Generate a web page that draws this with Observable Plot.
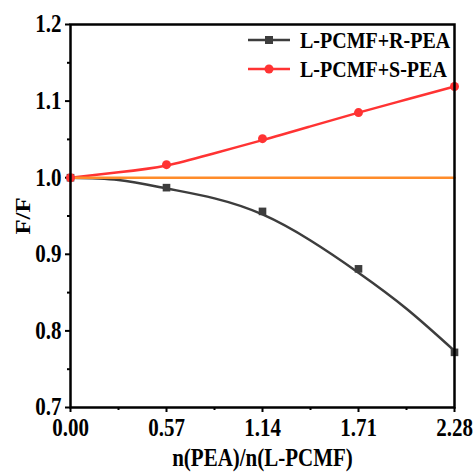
<!DOCTYPE html>
<html>
<head>
<meta charset="utf-8">
<script src="https://cdn.jsdelivr.net/npm/d3@7"></script>
<script src="https://cdn.jsdelivr.net/npm/@observablehq/plot@0.6"></script>
<style>
  html, body { margin: 0; padding: 0; background: #fff; }
  #wrap { position: relative; width: 476px; height: 473px; }
  #legend { position: absolute; left: 0; top: 0; }
  .stretch { transform: scaleY(1.18); transform-box: fill-box; transform-origin: center; }
</style>
</head>
<body>
<div id="wrap"></div>
<script>
// Measured points
const xValues = [0, 0.57, 1.14, 1.71, 2.28];
const rPEA = [1.0, 0.987, 0.956, 0.881, 0.772];
const sPEA = [1.0, 1.017, 1.051, 1.085, 1.119];
// Fitted curves
const fitX = [0, 0.285, 0.57, 0.855, 1.14, 1.425, 1.71, 1.995, 2.28];
const rFit = [1.0, 0.997, 0.986, 0.973, 0.952, 0.918, 0.876, 0.829, 0.774];
const sFit = [1.0, 1.007, 1.016, 1.032, 1.049, 1.067, 1.085, 1.102, 1.119];
const baseline = [1.0, 1.0];
const baselineX = [0, 2.28];
// Ticks
const xTicks = [0, 0.57, 1.14, 1.71, 2.28];
const xMinor = [0.285, 0.855, 1.425, 1.995];
const yTicks = [0.7, 0.8, 0.9, 1.0, 1.1, 1.2];
const yMinor = [0.75, 0.85, 0.95, 1.05, 1.15];
const seriesNames = ["L-PCMF+R-PEA", "L-PCMF+S-PEA"];
const colors = { black: "#3d3d3d", red: "#ff3333", orange: "#ff8c2a" };

const pts = (xs, ys) => xs.map((x, i) => ({x, y: ys[i]}));
const font = "'Liberation Serif', 'Times New Roman', serif";

const chart = Plot.plot({
  width: 476,
  height: 473,
  marginLeft: 70,
  marginRight: 22,
  marginTop: 24,
  marginBottom: 66,
  style: { fontFamily: font, fontWeight: "bold", fontSize: "21px", color: "#000", background: "#fff" },
  x: { domain: [0, 2.28] },
  y: { domain: [0.7, 1.2] },
  marks: [
    Plot.axisX({ ticks: xTicks, tickFormat: d3.format(".2f"), tickSize: 5, tickPadding: 6, strokeWidth: 2,
      label: "n(PEA)/n(L-PCMF)", labelAnchor: "center", labelArrow: "none", labelOffset: 58, fontSize: 21 }),
    Plot.axisX({ ticks: xMinor, tickSize: 3, strokeWidth: 2, text: null, label: null }),
    Plot.axisY({ ticks: yTicks, tickFormat: d3.format(".1f"), tickSize: 5, tickPadding: 4, strokeWidth: 2,
      label: "F/F", labelAnchor: "center", labelArrow: "none", labelOffset: 55, fontSize: 21 }),
    Plot.axisY({ ticks: yMinor, tickSize: 3, strokeWidth: 2, text: null, label: null }),
    Plot.line(pts(fitX, rFit), { x: "x", y: "y", stroke: colors.black, strokeWidth: 2.5, curve: "natural" }),
    Plot.line(pts(fitX, sFit), { x: "x", y: "y", stroke: colors.red, strokeWidth: 2.5, curve: "natural" }),
    Plot.line(pts(baselineX, baseline), { x: "x", y: "y", stroke: colors.orange, strokeWidth: 2.5 }),
    Plot.dot(pts(xValues, rPEA), { x: "x", y: "y", symbol: "square", r: 4.3, fill: colors.black, stroke: "none" }),
    Plot.dot(pts(xValues, sPEA), { x: "x", y: "y", symbol: "circle", r: 4.5, fill: colors.red, stroke: "none" }),
    Plot.frame({ stroke: "#000", strokeWidth: 2.5 })
  ]
});

const wrap = document.getElementById("wrap");
wrap.appendChild(chart);

// stretch tick labels and axis labels vertically to match the reference's tall glyphs
d3.select(chart).selectAll("g[aria-label$='tick label'] text, g[aria-label$='axis label'] text")
  .each(function() {
    const t = this.getAttribute("transform") || "";
    const isY = this.parentNode.getAttribute("aria-label") === "y-axis label";
    this.setAttribute("transform", t + (isY ? " scale(1.18,1)" : " scale(1,1.18)"));
  });

// Legend overlay
const leg = d3.select(wrap).append("svg").attr("id", "legend").attr("width", 476).attr("height", 473);
const legItems = [
  { name: seriesNames[0], color: colors.black, sym: "square" },
  { name: seriesNames[1], color: colors.red, sym: "circle" }
];
legItems.forEach((d, i) => {
  const y = 40 + i * 29;
  const g = leg.append("g");
  g.append("line").attr("x1", 248).attr("x2", 290).attr("y1", y).attr("y2", y)
    .attr("stroke", d.color).attr("stroke-width", 2.5);
  if (d.sym === "square") g.append("rect").attr("x", 265).attr("y", y - 4).attr("width", 8).attr("height", 8).attr("fill", d.color);
  else g.append("circle").attr("cx", 269).attr("cy", y).attr("r", 4.5).attr("fill", d.color);
  g.append("text").attr("x", 300).attr("y", y).attr("dy", "0.35em")
    .attr("font-family", font).attr("font-weight", "bold").attr("font-size", 20)
    .attr("class", "stretch").text(d.name);
});
</script>
</body>
</html>
